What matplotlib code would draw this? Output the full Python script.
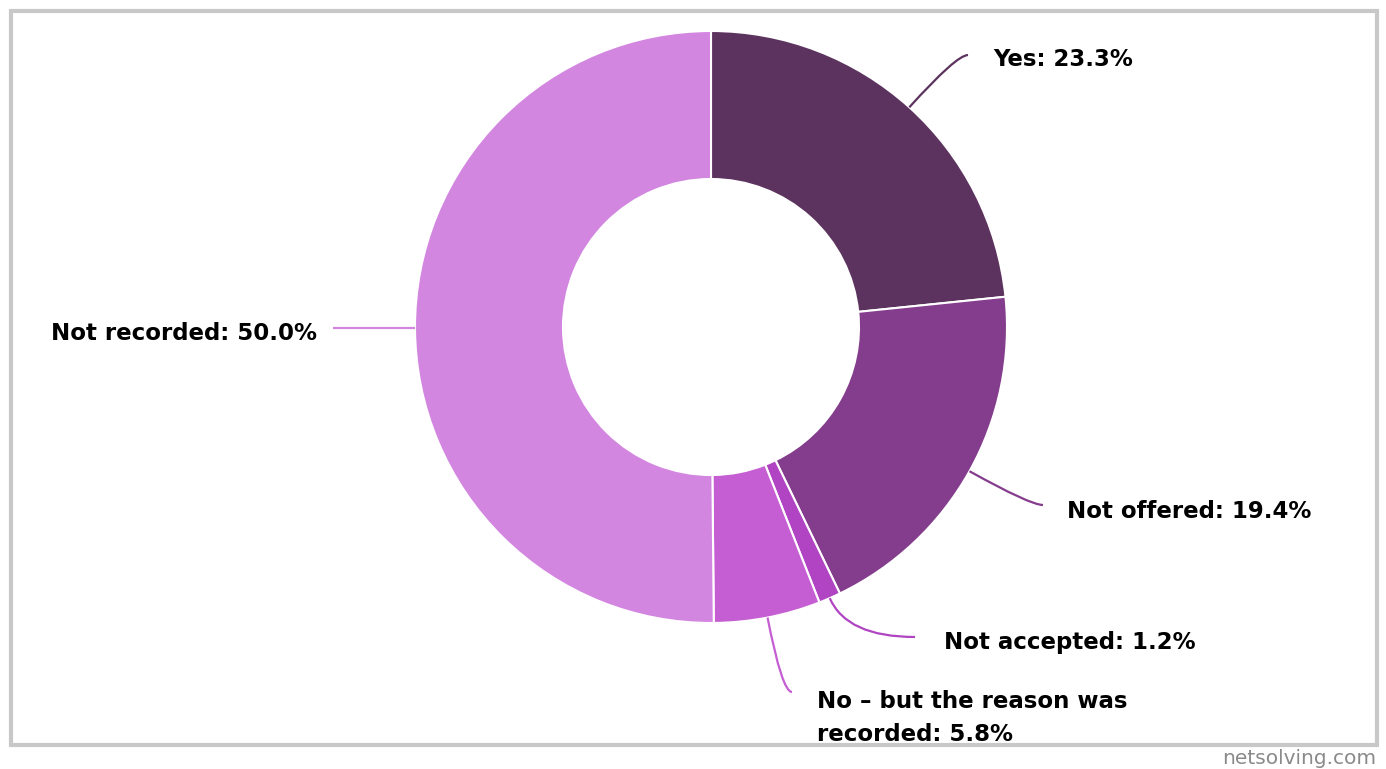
import numpy as np
import matplotlib
matplotlib.use("Agg")
import matplotlib.pyplot as plt
from matplotlib.path import Path
from matplotlib.patches import PathPatch, Rectangle

W, H = 1386, 769

labels = ["Yes", "Not offered", "Not accepted",
          "No \u2013 but the reason was\nrecorded", "Not recorded"]
values = [23.3, 19.4, 1.2, 5.8, 50.0]
colors = ["#5c335e", "#843c8c", "#b044c2", "#c55ed3", "#d386e0"]

# label layout (pixel positions, y from top): text anchor, connector end, alignment
label_pos = [(993, 60), (1067, 511), (944, 642), (817, 718), (317, 333)]
conn_end = [(968, 55), (1043, 505), (915, 637), (792, 692), (333, 327)]
label_ha = ["left", "left", "left", "left", "right"]

cx, cy = 711, 327
r_out, r_in = 296, 148

fig = plt.figure(figsize=(W / 100, H / 100), dpi=100, facecolor="white")
ax = fig.add_axes([0, 0, 1, 1])

wedges, _ = ax.pie(values, colors=colors, startangle=90, counterclock=False,
                   center=(cx, H - cy), radius=r_out,
                   wedgeprops=dict(width=r_out - r_in, edgecolor="white",
                                   linewidth=1.5))
ax.set_xlim(0, W)
ax.set_ylim(0, H)
ax.set_aspect("equal")
ax.axis("off")

for w, lab, val, col, (lx, ly), (ex, ey), ha in zip(
        wedges, labels, values, colors, label_pos, conn_end, label_ha):
    mid = np.deg2rad((w.theta1 + w.theta2) / 2)
    dx, dy = np.cos(mid), np.sin(mid)
    sx = cx + r_out * dx
    sy = (H - cy) + r_out * dy
    ey = H - ey
    if abs(ey - sy) < 8:
        verts = [(sx, sy), (ex, sy)]
        codes = [Path.MOVETO, Path.LINETO]
    else:
        # control point where the radial direction meets the end's horizontal
        t = (ey - sy) / dy
        qx = sx + t * dx
        qx = min(qx, ex - 5) if ex > sx else max(qx, ex + 5)
        verts = [(sx, sy), (qx, ey), (ex, ey)]
        codes = [Path.MOVETO, Path.CURVE3, Path.CURVE3]
    ax.add_patch(PathPatch(Path(verts, codes), fill=False, edgecolor=col,
                           linewidth=1.6))
    ax.text(lx, H - ly, f"{lab}: {val:.1f}%", ha=ha, va="center",
            fontsize=16.5, fontweight="bold", color="black",
            family="DejaVu Sans", linespacing=1.55)

# frame around the chart
ax.add_patch(Rectangle((11, H - 745), 1366, 734, fill=False,
                       edgecolor="#c8c8c8", linewidth=3))
ax.text(1376, H - 758, "netsolving.com", ha="right", va="center",
        fontsize=14.5, color="#8a8a8a")

fig.savefig("out.png", dpi=100, facecolor="white")
